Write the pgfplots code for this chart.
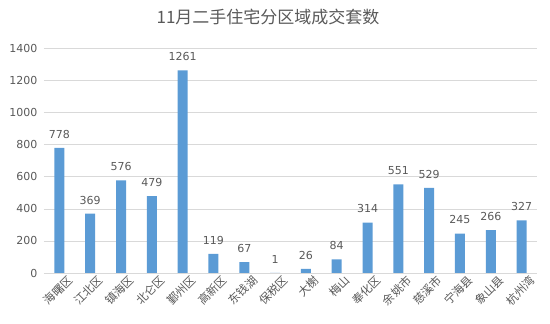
\documentclass[border=0pt]{standalone}
\usepackage{pgfplots}
\pgfplotsset{compat=1.18}
\usepackage{fontspec}
\setmainfont{DejaVu Sans}
\newfontfamily\cjk{Noto Sans CJK SC}
\definecolor{barblue}{HTML}{5B9BD5}
\definecolor{txtgray}{HTML}{595959}
\definecolor{gridgray}{HTML}{D9D9D9}
\begin{document}
\begin{tikzpicture}
\useasboundingbox (-44pt,-51pt) rectangle (506pt,273pt);
\begin{axis}[
  at={(0pt,0pt)}, anchor=south west,
  scale only axis,
  width=493pt, height=225pt,
  xmin=-0.5, xmax=15.5,
  ymin=0, ymax=1400,
  ytick={0,200,...,1400},
  xtick={0,...,15},
  xticklabels={海曙区,江北区,镇海区,北仑区,鄞州区,高新区,东钱湖,保税区,大榭,梅山,奉化区,余姚市,慈溪市,宁海县,象山县,杭州湾},
  x tick label style={font=\cjk\fontsize{11.5}{11.5}\selectfont, text=txtgray, rotate=45, anchor=north east, inner sep=1pt, xshift=5pt, yshift=-5pt},
  y tick label style={font=\fontsize{11}{11}\selectfont, text=txtgray, xshift=-3pt},
  /pgf/number format/assume math mode=true,
  /pgf/number format/1000 sep={},
  ymajorgrids, grid style={gridgray},
  axis x line*=bottom, axis y line*=left,
  x axis line style={gridgray},
  y axis line style={draw=none},
  major tick length=0pt,
  ytick style={draw=none}, xtick style={draw=none},
  ybar, bar width=10pt,
  nodes near coords,
  every node near coord/.append style={font=\fontsize{11}{11}\selectfont, text=txtgray, yshift=6pt},
  clip=false,
]
\addplot[fill=barblue, draw=none] coordinates {
(0,778) (1,369) (2,576) (3,479) (4,1261) (5,119) (6,67) (7,1)
(8,26) (9,84) (10,314) (11,551) (12,529) (13,245) (14,266) (15,327)};
\end{axis}
\node[font=\cjk\fontsize{17}{17}\selectfont, text=txtgray] at (224pt,256pt) {11月二手住宅分区域成交套数};
\end{tikzpicture}
\end{document}
